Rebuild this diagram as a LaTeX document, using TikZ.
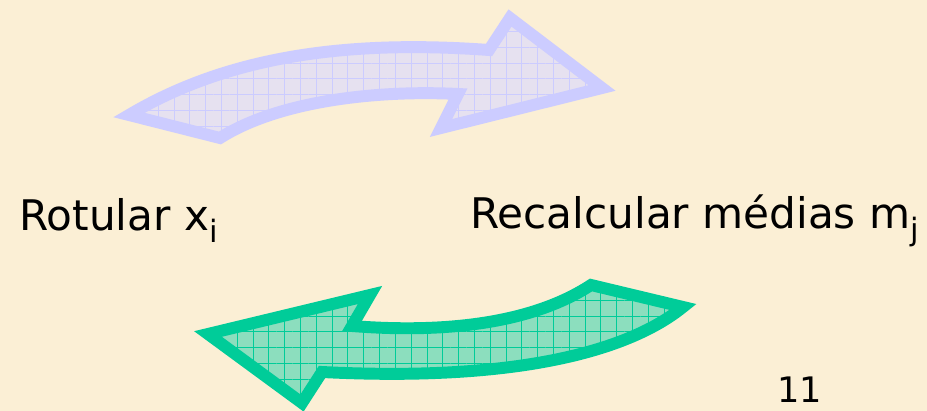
\documentclass[tikz,border=0pt]{standalone}
\usepackage{fontspec}
\setmainfont{DejaVu Sans}
\usetikzlibrary{patterns.meta}
\definecolor{parchment}{RGB}{251,239,213}
\definecolor{lavline}{RGB}{204,204,255}
\definecolor{lavfill}{RGB}{230,225,240}
\definecolor{tealline}{RGB}{0,204,153}
\definecolor{tealfill}{RGB}{140,222,190}
\newcommand{\lowidx}[1]{\raisebox{-6.8pt}{\fontsize{17.5}{17.5}\selectfont #1}}

\begin{document}
\begin{tikzpicture}[x=0.02cm, y=-0.02cm,
    bigarrow/.style={line width=6.8pt, line join=miter, draw=#1line,
      preaction={fill=#1fill},
      preaction={pattern={Hatch[angle=0, distance=9pt, line width=0.5pt]}, pattern color=#1line}},
    lbl/.style={anchor=base west, inner sep=0pt, font=\fontsize{24}{28}\selectfont}]

    % page
    \fill[parchment] (0,0) rectangle (927,411);
    \useasboundingbox (0,0) rectangle (927,411);

    % upper arrow, pointing right
    \draw[bigarrow=lav] (129,115) .. controls (230,55) and (350,40) .. (489,50)
        -- (510,18) -- (602,88) -- (441,128) -- (458,94)
        .. controls (380,90) and (280,100) .. (220,138) -- cycle;

    % lower arrow, pointing left
    \draw[bigarrow=teal] (683,307) .. controls (630,350) and (520,382) .. (322,372)
        -- (302,403) -- (208,334) -- (370,295) -- (352,326)
        .. controls (440,333) and (530,325) .. (591,285) -- cycle;

    % steps
    \node[lbl] (rot) at (19,231) {Rotular x\lowidx{i}};
    \node[lbl] (rec) at (470,229) {Recalcular médias m\lowidx{j}};

    % slide number
    \node[anchor=base west, inner sep=0pt, font=\fontsize{20}{20}\selectfont] (pg) at (777,403) {11};
\end{tikzpicture}
\end{document}
